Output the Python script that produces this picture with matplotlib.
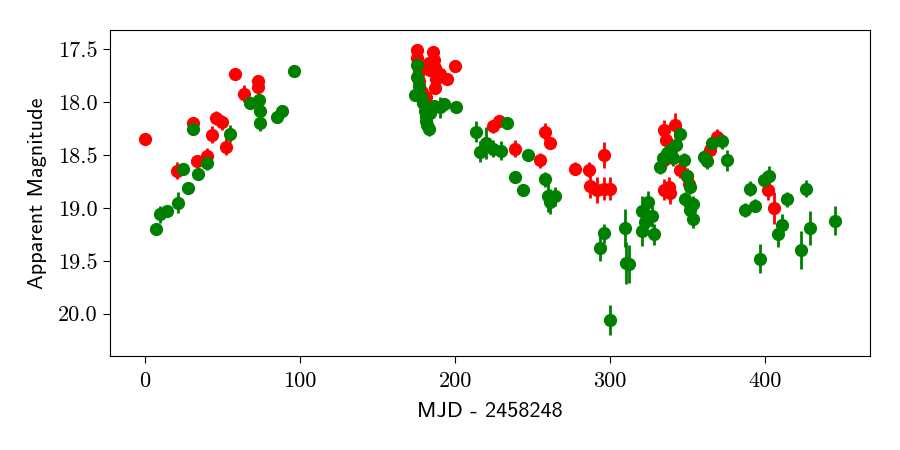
import matplotlib
matplotlib.use("Agg")
import matplotlib.pyplot as plt

plt.rcParams['axes.unicode_minus'] = False

red_t = [0.0, 20.5, 31.2, 33.4, 40.2, 43.0, 45.8, 49.5, 52.3, 58.1, 64.1, 73.1, 73.1,
         175.7, 175.5, 176.0, 176.5, 177.0, 179.0, 181.0, 183.0, 184.0, 186.0, 186.5, 187.0, 187.5, 187.0,
         190.3, 194.6, 200.0, 224.7, 228.6, 238.7, 254.8, 258.1, 261.3, 277.0, 286.5, 287.1, 291.4,
         295.7, 296.1, 300.2, 334.4, 336.1, 341.9, 334.4, 334.4, 337.6, 338.7, 345.2, 349.5, 350.5,
         364.5, 368.8, 402.0, 405.4]
red_m = [18.35, 18.65, 18.20, 18.56, 18.51, 18.31, 18.15, 18.19, 18.42, 17.73, 17.92, 17.80, 17.86,
         17.51, 17.58, 17.65, 17.72, 17.80, 17.90, 17.95, 17.63, 17.70, 17.53, 17.60, 17.68, 17.78, 17.87,
         17.73, 17.78, 17.66, 18.23, 18.18, 18.44, 18.55, 18.28, 18.39, 18.63, 18.64, 18.79, 18.83,
         18.50, 18.82, 18.82, 18.26, 18.36, 18.22, 18.55, 18.83, 18.80, 18.86, 18.64, 18.70, 18.77,
         18.45, 18.33, 18.83, 19.00]
red_e = [0.03, 0.08, 0.04, 0.05, 0.08, 0.08, 0.07, 0.07, 0.08, 0.04, 0.08, 0.06, 0.06,
         0.05, 0.05, 0.05, 0.05, 0.05, 0.05, 0.05, 0.05, 0.05, 0.05, 0.05, 0.05, 0.05, 0.05,
         0.05, 0.04, 0.04, 0.06, 0.05, 0.08, 0.07, 0.08, 0.05, 0.06, 0.07, 0.12, 0.12,
         0.12, 0.11, 0.11, 0.09, 0.08, 0.12, 0.08, 0.10, 0.09, 0.10, 0.08, 0.08, 0.08,
         0.06, 0.08, 0.10, 0.15]

green_t = [7.1, 9.7, 14.2, 21.1, 24.7, 27.9, 31.2, 34.0, 40.2, 54.8, 67.7, 73.7, 74.2, 74.2, 85.0, 88.2, 96.1,
           175.7, 175.7, 174.2, 177.0, 178.0, 179.6, 180.4, 181.0, 181.5, 182.0, 183.5, 184.0, 186.5, 190.0, 193.0, 200.7,
           213.5, 216.1, 220.0, 224.7, 229.5, 233.3, 238.7, 244.1, 247.3, 258.1, 260.2, 264.5, 261.3,
           296.1, 293.3, 300.0, 309.3, 310.3, 312.0, 320.4, 320.4, 322.6, 324.7, 323.7, 326.9, 328.0,
           332.3, 334.2, 336.6, 338.7, 340.8, 342.6, 345.2, 347.3, 349.5, 351.6, 348.4, 353.7, 351.6, 353.1,
           360.2, 362.4, 365.6, 372.0, 375.3,
           387.1, 390.3, 393.5, 396.3, 398.9, 402.1, 408.0, 410.8, 414.0, 423.2, 426.2, 429.0, 445.2]
green_m = [19.20, 19.06, 19.03, 18.95, 18.63, 18.81, 18.25, 18.68, 18.58, 18.30, 18.01, 17.98, 18.08, 18.20, 18.14, 18.08, 17.71,
           17.65, 17.76, 17.93, 17.85, 17.95, 18.01, 18.08, 18.18, 18.13, 18.22, 18.25, 18.10, 18.04, 18.05, 18.02, 18.05,
           18.28, 18.47, 18.39, 18.44, 18.46, 18.20, 18.71, 18.83, 18.50, 18.73, 18.89, 18.89, 18.94,
           19.24, 19.38, 20.06, 19.19, 19.52, 19.53, 19.03, 19.22, 19.13, 18.94, 19.10, 19.08, 19.25,
           18.61, 18.53, 18.48, 18.45, 18.53, 18.41, 18.30, 18.55, 18.70, 18.80, 18.92, 18.96, 19.02, 19.11,
           18.52, 18.56, 18.39, 18.37, 18.55,
           19.02, 18.82, 18.98, 19.48, 18.74, 18.70, 19.25, 19.16, 18.92, 19.40, 18.82, 19.19, 19.12]
green_e = [0.06, 0.08, 0.06, 0.10, 0.04, 0.05, 0.05, 0.06, 0.06, 0.08, 0.05, 0.06, 0.07, 0.07, 0.05, 0.05, 0.05,
           0.05, 0.05, 0.05, 0.05, 0.05, 0.06, 0.06, 0.06, 0.06, 0.07, 0.07, 0.06, 0.06, 0.10, 0.06, 0.05,
           0.10, 0.10, 0.15, 0.08, 0.09, 0.03, 0.05, 0.05, 0.03, 0.07, 0.15, 0.09, 0.12,
           0.09, 0.12, 0.14, 0.18, 0.20, 0.18, 0.14, 0.14, 0.10, 0.10, 0.10, 0.10, 0.10,
           0.07, 0.07, 0.07, 0.07, 0.07, 0.07, 0.07, 0.07, 0.07, 0.07, 0.07, 0.07, 0.07, 0.08,
           0.07, 0.07, 0.06, 0.07, 0.10,
           0.07, 0.07, 0.06, 0.14, 0.08, 0.10, 0.12, 0.10, 0.07, 0.18, 0.08, 0.16, 0.14]

fig = plt.figure(figsize=(9, 4.5), dpi=100)
ax = fig.add_axes([0.122, 0.209, 0.845, 0.724])

ax.errorbar(red_t, red_m, yerr=red_e, fmt='o', color='red', ecolor='red',
            markersize=8.5, elinewidth=2, capsize=0)
ax.errorbar(green_t, green_m, yerr=green_e, fmt='o', color='green', ecolor='green',
            markersize=8.5, elinewidth=2, capsize=0)

ax.set_xlim(-22.6, 467.7)
ax.set_ylim(20.40, 17.32)
ax.set_xticks([0, 100, 200, 300, 400])
ax.set_xticklabels(['0', '100', '200', '300', '400'])
ax.set_yticks([17.5, 18.0, 18.5, 19.0, 19.5, 20.0])
ax.set_yticklabels(['17.5', '18.0', '18.5', '19.0', '19.5', '20.0'])
for lab in ax.get_xticklabels() + ax.get_yticklabels():
    lab.set_fontfamily('cmr10')
    lab.set_fontsize(16)
ax.tick_params(direction='out', length=5, width=0.8)
ax.tick_params(axis='x', pad=6)
for s in ax.spines.values():
    s.set_linewidth(0.8)

ax.set_xlabel('MJD - 2458248', fontfamily='cmss10', fontsize=16, labelpad=8)
ax.set_ylabel('Apparent Magnitude', fontfamily='cmss10', fontsize=16, labelpad=8)

fig.savefig('out.png', dpi=100)
